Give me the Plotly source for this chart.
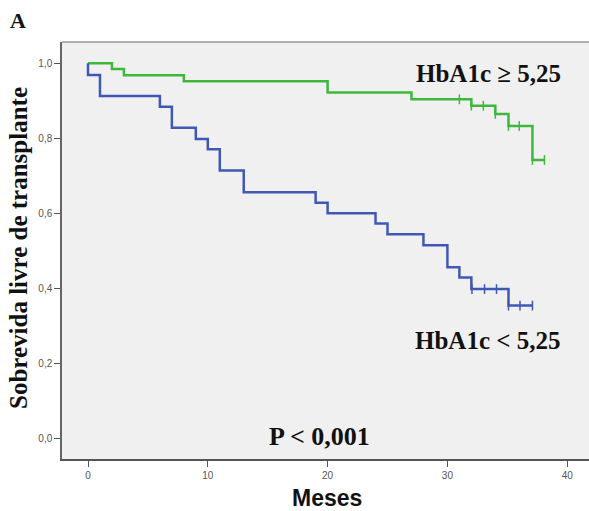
import plotly.graph_objects as go

# Kaplan-Meier step data (months, survival)
green_times = [0, 2, 3, 8, 20, 27, 32, 34, 35.1, 37.1, 38.1]
green_surv = [1.0, 0.985, 0.968, 0.952, 0.922, 0.904, 0.887, 0.865, 0.833, 0.742, 0.742]
green_cens_t = [31, 32, 33, 34, 35.1, 36, 37.1, 38.1]
green_cens_s = [0.904, 0.887, 0.887, 0.865, 0.833, 0.833, 0.742, 0.742]

blue_times = [0, 0, 1, 6, 7, 9, 10, 11, 13, 19, 20, 24, 25, 28, 30, 31, 32, 35.1, 37.1]
blue_surv = [1.0, 0.969, 0.913, 0.884, 0.828, 0.798, 0.771, 0.714, 0.656, 0.628, 0.600,
             0.573, 0.544, 0.515, 0.456, 0.429, 0.398, 0.354, 0.354]
blue_cens_t = [32.05, 33.1, 34.1, 35.1, 36.06, 37.1]
blue_cens_s = [0.398, 0.398, 0.398, 0.354, 0.354, 0.354]

x_ticks = [0, 10, 20, 30, 40]
y_ticks = [0.0, 0.2, 0.4, 0.6, 0.8, 1.0]
y_tick_labels = ["0,0", "0,2", "0,4", "0,6", "0,8", "1,0"]

GREEN = "#3DB83D"
BLUE = "#4058B3"

fig = go.Figure()
fig.add_trace(go.Scatter(x=green_times, y=green_surv, mode="lines", line_shape="hv",
                         line=dict(color=GREEN, width=2.5), hoverinfo="skip"))
fig.add_trace(go.Scatter(x=blue_times, y=blue_surv, mode="lines", line_shape="hv",
                         line=dict(color=BLUE, width=2.5), hoverinfo="skip"))
fig.add_trace(go.Scatter(x=green_cens_t, y=green_cens_s, mode="markers",
                         marker=dict(symbol="line-ns", size=7, line=dict(color=GREEN, width=1.5)),
                         hoverinfo="skip"))
fig.add_trace(go.Scatter(x=blue_cens_t, y=blue_cens_s, mode="markers",
                         marker=dict(symbol="line-ns", size=7, line=dict(color=BLUE, width=1.5)),
                         hoverinfo="skip"))

serif = "Liberation Serif, Times New Roman, serif"
sans = "Liberation Sans, Arial, sans-serif"

annotations = [
    dict(text="<b>HbA1c ≥ 5,25</b>", x=33.4, y=0.974, xref="x", yref="y", showarrow=False,
         font=dict(family=serif, size=25, color="#111")),
    dict(text="<b>HbA1c < 5,25</b>", x=33.4, y=0.262, xref="x", yref="y", showarrow=False,
         font=dict(family=serif, size=25, color="#111")),
    dict(text="<b>P < 0,001</b>", x=19.3, y=0.004, xref="x", yref="y", showarrow=False,
         font=dict(family=serif, size=26, color="#111")),
    dict(text="<b>A</b>", x=(18 - 62) / 527, y=1 + (42 - 20) / 417, xref="paper", yref="paper",
         xanchor="center", yanchor="middle", showarrow=False,
         font=dict(family=serif, size=22, color="#111")),
    dict(text="<b>Sobrevida livre de transplante</b>", textangle=-90,
         x=-44 / 527, y=(459 - 248) / 417, xref="paper", yref="paper", xanchor="center", yanchor="middle",
         showarrow=False, font=dict(family=serif, size=25, color="#111")),
    dict(text="<b>Meses</b>", x=(327 - 62) / 527, y=-(498 - 459) / 417, xref="paper", yref="paper",
         xanchor="center", yanchor="middle", showarrow=False,
         font=dict(family=sans, size=23, color="#111")),
]

fig.update_layout(
    width=589, height=511,
    margin=dict(l=62, r=0, t=42, b=52),
    paper_bgcolor="white", plot_bgcolor="#F0F0F0",
    showlegend=False,
    annotations=annotations,
    xaxis=dict(range=[-2.17, 41.82], tickvals=x_ticks, ticktext=[str(v) for v in x_ticks],
               showgrid=False, zeroline=False, showline=True, linecolor="#555", linewidth=1.5,
               ticks="outside", ticklen=6, tickcolor="#555", tickwidth=1,
               tickfont=dict(family=sans, size=10, color="#555")),
    yaxis=dict(range=[-0.0552, 1.0568], tickvals=y_ticks, ticktext=y_tick_labels,
               showgrid=False, zeroline=False, showline=True, linecolor="#666", linewidth=1.5,
               ticks="outside", ticklen=6, tickcolor="#555", tickwidth=1,
               tickfont=dict(family=sans, size=10, color="#555")),
    shapes=[dict(type="line", xref="paper", yref="paper", x0=0, x1=1, y0=1, y1=1,
                 line=dict(color="#999", width=1.5))],
)

fig.write_html("out.html")
